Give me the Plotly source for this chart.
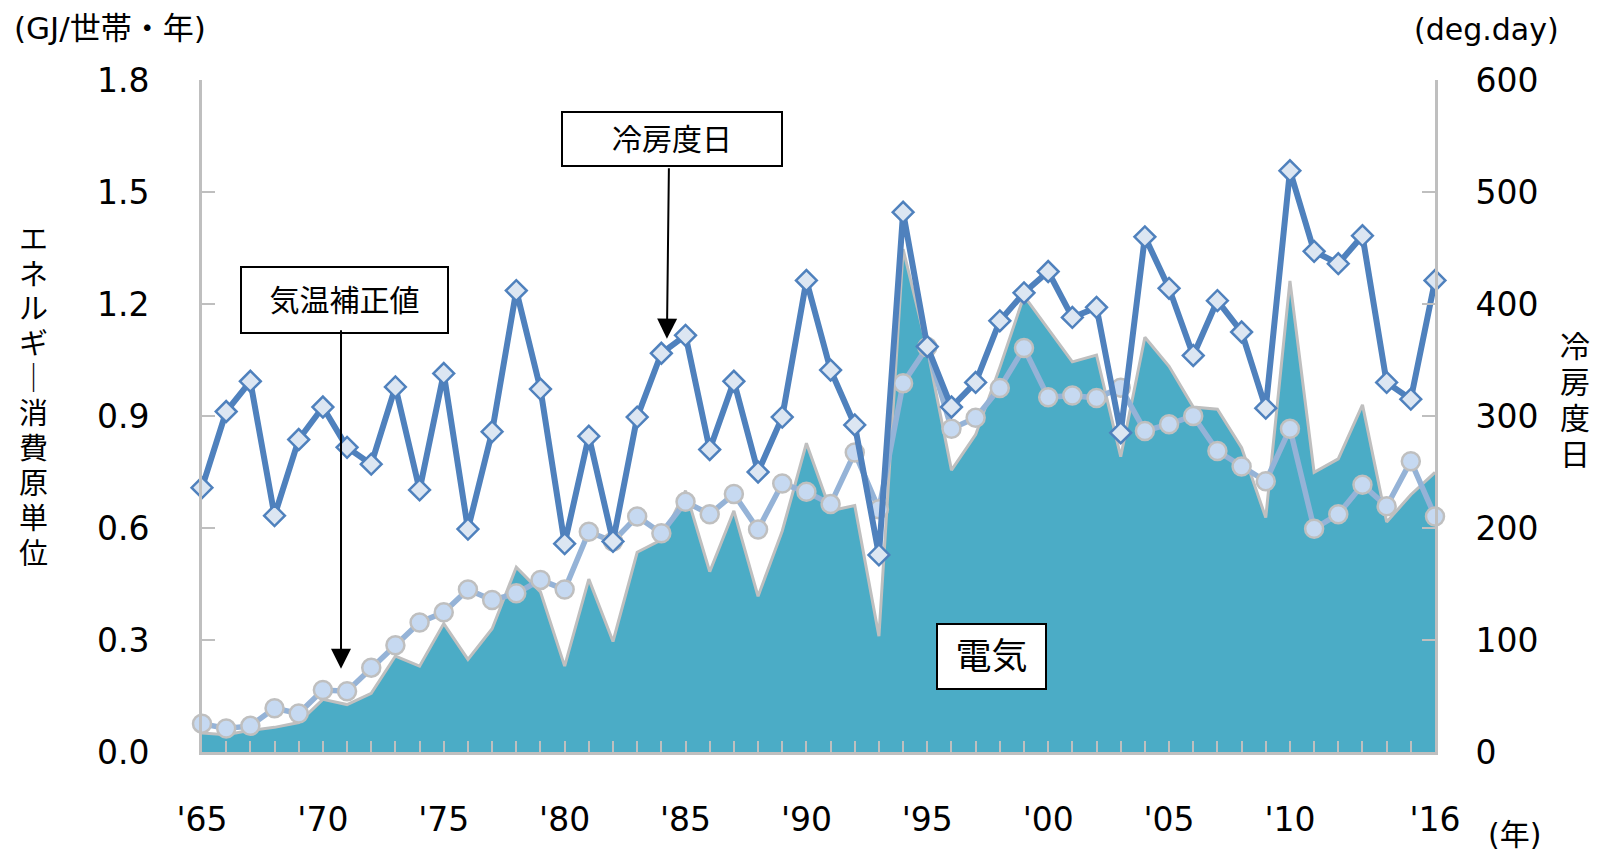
import plotly.graph_objects as go

years = list(range(1965, 2017))

# 電気 (actual, GJ/世帯・年)
electricity = [0.051, 0.046, 0.058, 0.066, 0.079, 0.141, 0.127, 0.157, 0.257, 0.230,
               0.344, 0.248, 0.330, 0.495, 0.429, 0.230, 0.463, 0.296, 0.535, 0.568,
               0.700, 0.483, 0.646, 0.417, 0.592, 0.827, 0.646, 0.660, 0.310, 1.347,
               1.080, 0.755, 0.850, 1.030, 1.222, 1.134, 1.045, 1.063, 0.791, 1.111,
               1.033, 0.924, 0.918, 0.815, 0.628, 1.262, 0.749, 0.785, 0.930, 0.616,
               0.689, 0.749]

# 気温補正値 (GJ/世帯・年)
corrected = [0.076, 0.063, 0.070, 0.117, 0.103, 0.166, 0.163, 0.226, 0.286, 0.347,
             0.374, 0.435, 0.407, 0.425, 0.461, 0.435, 0.590, 0.564, 0.631, 0.586,
             0.670, 0.637, 0.691, 0.596, 0.719, 0.697, 0.664, 0.802, 0.650, 0.988,
             1.085, 0.866, 0.895, 0.975, 1.082, 0.950, 0.955, 0.948, 0.976, 0.860,
             0.878, 0.900, 0.806, 0.765, 0.725, 0.866, 0.598, 0.637, 0.716, 0.658,
             0.779, 0.631]

# 冷房度日 (deg.day)
cdd = [236, 304, 331, 211, 279, 308, 272, 257, 326, 234,
       338, 199, 286, 412, 324, 186, 282, 188, 299, 356,
       372, 270, 331, 250, 299, 421, 341, 292, 176, 482,
       362, 308, 330, 385, 410, 429, 388, 397, 285, 460,
       414, 354, 403, 375, 307, 519, 447, 436, 461, 330,
       315, 421]

x_tickvals = [1965, 1970, 1975, 1980, 1985, 1990, 1995, 2000, 2005, 2010, 2016]
x_ticktext = ["'65", "'70", "'75", "'80", "'85", "'90", "'95", "'00", "'05", "'10", "'16"]

left_title_chars = ["エ", "ネ", "ル", "ギ", "｜", "消", "費", "原", "単", "位"]
right_title_chars = ["冷", "房", "度", "日"]

FONT = "DejaVu Sans, Noto Sans CJK JP"
GRAY = "#BFBFBF"
W, H = 1597, 851
L, R, T, B = 202, 1435, 80, 766


def px(xp):
    return (xp - L) / (R - L)


def py(yp):
    return (B - yp) / (B - T)


fig = go.Figure()
fig.add_trace(go.Scatter(
    x=years, y=electricity, mode="lines", fill="tozeroy",
    fillcolor="#4BACC6", line=dict(color=GRAY, width=3), name="電気",
    showlegend=False))
fig.add_trace(go.Scatter(
    x=years, y=corrected, mode="lines+markers", name="気温補正値",
    line=dict(color="#95B3D7", width=5.5),
    marker=dict(symbol="circle", size=18, color="#C6D9F1",
                line=dict(color=GRAY, width=2.5)),
    cliponaxis=False, showlegend=False))
fig.add_trace(go.Scatter(
    x=years, y=cdd, mode="lines+markers", name="冷房度日", yaxis="y2",
    line=dict(color="#4F81BD", width=6),
    marker=dict(symbol="diamond", size=16, color="#DCE6F2",
                line=dict(color="#4F81BD", width=2.5)),
    cliponaxis=False, showlegend=False))

axis_common = dict(showgrid=False, zeroline=False, showline=True,
                   linecolor=GRAY, linewidth=3, ticks="inside",
                   tickcolor=GRAY, tickwidth=2,
                   tickfont=dict(size=33, color="#000000", family=FONT))

fig.update_layout(
    width=W, height=H,
    margin=dict(l=L, r=W - R, t=T, b=H - B, pad=0),
    paper_bgcolor="white", plot_bgcolor="white",
    font=dict(family=FONT, color="#000000"),
    xaxis=dict(range=[1965, 2016], tickmode="array", tickvals=x_tickvals,
               ticktext=x_ticktext, ticklen=11, ticklabelstandoff=36,
               minor=dict(dtick=1, tick0=1965, ticks="inside", ticklen=11,
                          tickcolor=GRAY, tickwidth=2, showgrid=False),
               **axis_common),
    yaxis=dict(range=[0, 1.8], dtick=0.3, tick0=0, tickformat=".1f",
               ticklen=13, ticklabelstandoff=43, **axis_common),
    yaxis2=dict(range=[0, 600], dtick=100, tick0=0, overlaying="y",
                side="right", ticklen=13, ticklabelstandoff=31, **axis_common),
)

ann = []
# axis unit labels
ann.append(dict(text="(GJ/世帯・年)", x=px(110), y=py(27), xref="paper", yref="paper",
                showarrow=False, xanchor="center", yanchor="middle",
                font=dict(size=31, family=FONT)))
ann.append(dict(text="(deg.day)", x=px(1486), y=py(28), xref="paper", yref="paper",
                showarrow=False, xanchor="center", yanchor="middle",
                font=dict(size=30, family=FONT)))
ann.append(dict(text="(年)", x=px(1514), y=py(850), xref="paper", yref="paper",
                showarrow=False, xanchor="center", yanchor="middle",
                font=dict(size=30, family=FONT)))
# vertical axis titles (one character per line)
for i, ch in enumerate(left_title_chars):
    ann.append(dict(text=ch, x=px(33), y=py(243 + i * 35.6), xref="paper", yref="paper",
                    showarrow=False, xanchor="center", yanchor="middle",
                    font=dict(size=29, family=FONT)))
for i, ch in enumerate(right_title_chars):
    ann.append(dict(text=ch, x=px(1575), y=py(352 + i * 36.7), xref="paper", yref="paper",
                    showarrow=False, xanchor="center", yanchor="middle",
                    font=dict(size=30, family=FONT)))
# boxed labels
for txt, cx, cy, w, h, fs in [("冷房度日", 672, 140, 218, 52, 30),
                              ("気温補正値", 344.5, 305, 205, 64, 30),
                              ("電気", 991, 668, 107, 63, 36)]:
    ann.append(dict(text=txt, x=px(cx), y=py(cy), xref="paper", yref="paper",
                    showarrow=False, xanchor="center", yanchor="middle",
                    width=w, height=h, bgcolor="white", bordercolor="#000000",
                    borderwidth=2, borderpad=0, font=dict(size=fs, family=FONT)))
# arrows
ann.append(dict(text="", x=1970.75, y=0.223, xref="x", yref="y", showarrow=True,
                ax=0, ay=-340, arrowhead=2, arrowsize=2, arrowwidth=2,
                arrowcolor="#000000", standoff=0))
ann.append(dict(text="", x=1984.23, y=1.107, xref="x", yref="y", showarrow=True,
                ax=2, ay=-172, arrowhead=2, arrowsize=2, arrowwidth=2,
                arrowcolor="#000000", standoff=0))
fig.update_layout(annotations=ann)

fig.write_html("out.html")
